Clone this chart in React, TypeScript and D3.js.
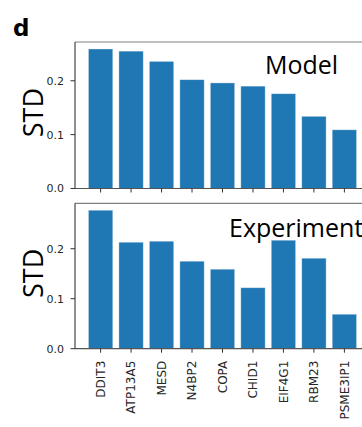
import React from "react";
import * as d3 from "d3";

const genes = ["DDIT3", "ATP13A5", "MESD", "N4BP2", "COPA", "CHID1", "EIF4G1", "RBM23", "PSME3IP1"];
const modelStd = [0.259, 0.255, 0.236, 0.202, 0.196, 0.190, 0.176, 0.134, 0.109];
const experimentStd = [0.277, 0.213, 0.215, 0.175, 0.159, 0.122, 0.217, 0.181, 0.069];
const yTicks = [0, 0.1, 0.2];

const W = 362;
const H = 427;
const LEFT = 75;
const RIGHT = 370;

const xScale = d3.scaleLinear().domain([-0.84, genes.length - 1 + 0.84]).range([LEFT, RIGHT]);
const barW = xScale(0.8) - xScale(0);

type PanelProps = {
  values: number[];
  top: number;
  bottom: number;
  label: string;
  labelX: number;
  labelY: number;
  showLabels: boolean;
};

const Panel = ({ values, top, bottom, label, labelX, labelY, showLabels }: PanelProps) => {
  const yMax = (d3.max(values) as number) * 1.05;
  const y = d3.scaleLinear().domain([0, yMax]).range([bottom, top]);
  const mid = (top + bottom) / 2;

  return (
    <g>
      {values.map((v, i) => (
        <rect
          key={genes[i]}
          x={xScale(i) - barW / 2}
          y={y(v)}
          width={barW}
          height={y(0) - y(v)}
          fill="#1f77b4"
          stroke="#ffffff"
          strokeOpacity={0.45}
          strokeWidth={0.8}
        />
      ))}
      {/* frame */}
      <line x1={LEFT} x2={RIGHT} y1={top} y2={top} stroke="#808080" strokeWidth={1.2} />
      <line x1={LEFT} x2={RIGHT} y1={bottom} y2={bottom} stroke="#555" strokeWidth={1.2} />
      <line x1={LEFT} x2={LEFT} y1={top} y2={bottom} stroke="#222" strokeWidth={1} />

      {yTicks.map((t) => (
        <g key={t}>
          <line x1={LEFT - 4.5} x2={LEFT} y1={y(t)} y2={y(t)} stroke="#333" strokeWidth={1} />
          <text
            x={LEFT - 11}
            y={y(t)}
            dy="0.36em"
            textAnchor="end"
            fontFamily="DejaVu Sans"
            fontSize={11}
            fill="#262626"
          >
            {t.toFixed(1)}
          </text>
        </g>
      ))}

      {genes.map((g, i) => (
        <g key={g}>
          <line x1={xScale(i)} x2={xScale(i)} y1={bottom} y2={bottom + 4} stroke="#333" strokeWidth={1} />
          {showLabels && (
            <text
              transform={`translate(${xScale(i)},${bottom + 12}) rotate(-90)`}
              dy="0.36em"
              textAnchor="end"
              fontFamily="DejaVu Sans"
              fontSize={12}
              fill="#262626"
            >
              {g}
            </text>
          )}
        </g>
      ))}

      <text
        transform={`translate(43,${mid + 22}) rotate(-90)`}
        fontFamily="Open Sans"
        fontSize={27}
        fill="#000"
      >
        STD
      </text>
      <text x={labelX} y={labelY} fontFamily="Open Sans" fontSize={25} fill="#000">
        {label}
      </text>
    </g>
  );
};

export default function App() {
  return (
    <svg
      width={W}
      height={H}
      style={{ position: "absolute", left: 0, top: 0, background: "#fff" }}
    >
      <text x={13} y={36} fontFamily="DejaVu Sans" fontWeight="bold" fontSize={23} fill="#000">
        d
      </text>
      <Panel values={modelStd} top={42} bottom={188.5} label="Model" labelX={265} labelY={74} showLabels={false} />
      <Panel
        values={experimentStd}
        top={203.3}
        bottom={348.7}
        label="Experiment"
        labelX={229}
        labelY={236.7}
        showLabels={true}
      />
    </svg>
  );
}
